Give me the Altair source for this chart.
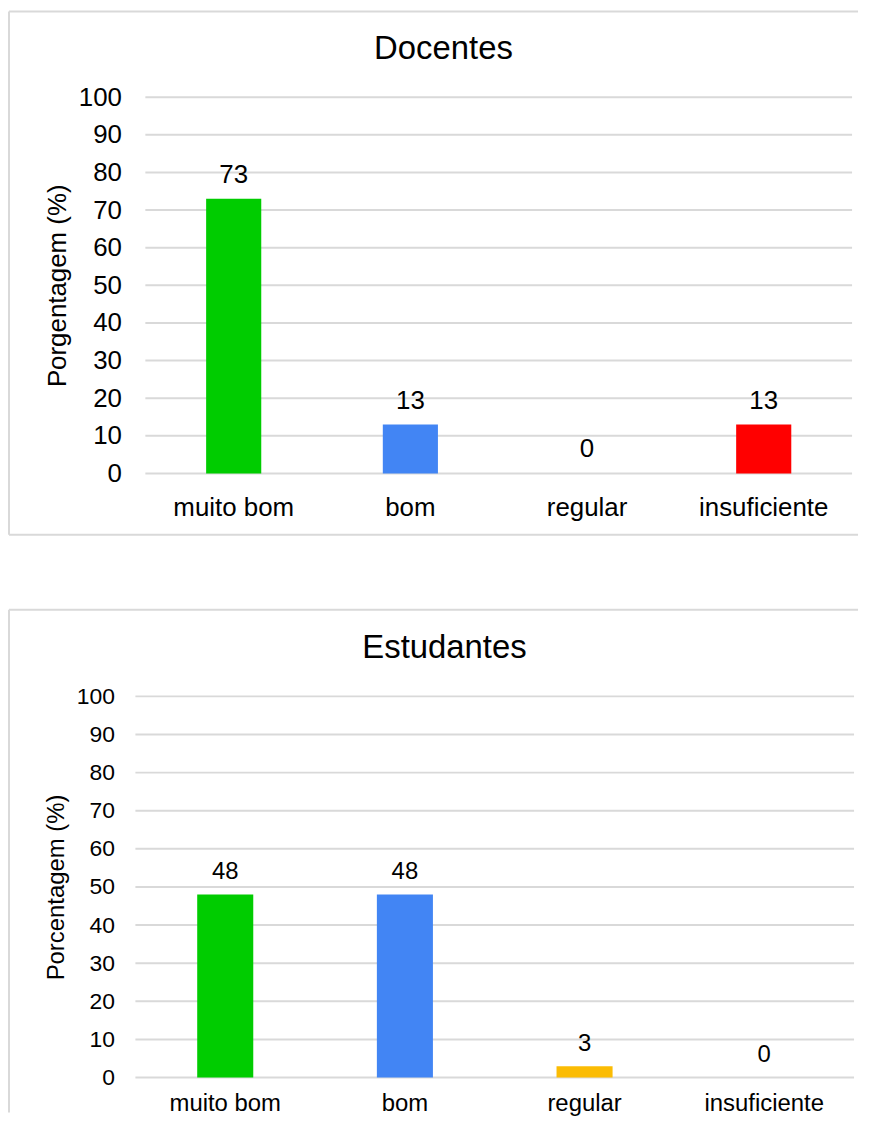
import altair as alt
import pandas as pd

categories = ["muito bom", "bom", "regular", "insuficiente"]
docentes = [73, 13, 0, 13]
estudantes = [48, 48, 3, 0]
bar_colors = ["#00CC00", "#4285F4", "#FBBC04", "#FF0000"]
y_ticks = [0, 10, 20, 30, 40, 50, 60, 70, 80, 90, 100]

FONT = "Liberation Sans"
GRID = "#d9d9d9"


def panel(title, values, ytitle, W, H, shift, tick_fs, label_fs, val_fs, ylab_pad,
          xlab_pad, val_dy, title_x, title_y, box):
    df = pd.DataFrame({"cat": categories, "val": values})
    yscale = alt.Scale(domain=[0, 100], nice=False)
    yaxis = alt.Axis(values=y_ticks, title=ytitle, ticks=False, domain=False,
                     grid=False, labelFontSize=tick_fs, labelOverlap=False,
                     labelFont=FONT, labelColor="#000000",
                     labelPadding=ylab_pad, titleFont=FONT,
                     titleFontSize=label_fs, titleFontWeight="normal",
                     titleColor="#000000", titlePadding=8)
    x = alt.X(
        "cat:N", sort=categories,
        scale=alt.Scale(paddingInner=0, paddingOuter=0, range=[shift, W]),
        axis=alt.Axis(title=None, labelAngle=0, ticks=False, domain=False,
                      grid=False, labelFontSize=label_fs, labelFont=FONT,
                      labelColor="#000000", labelPadding=xlab_pad,
                      labelOverlap=False),
    )
    y = alt.Y("val:Q", scale=yscale, axis=yaxis)
    grid = alt.Chart(pd.DataFrame({"val": y_ticks})).mark_rule(
        color=GRID, strokeWidth=2
    ).encode(y=alt.Y("val:Q", scale=yscale, axis=yaxis),
             x=alt.value(shift), x2=alt.value(W))
    bars = alt.Chart(df).mark_bar(width=alt.RelativeBandSize(0.312)).encode(
        x=x, y=y,
        color=alt.Color("cat:N", scale=alt.Scale(domain=categories, range=bar_colors),
                        legend=None),
    )
    labels = alt.Chart(df).mark_text(
        baseline="alphabetic", dy=val_dy, fontSize=val_fs, font=FONT, color="#000000"
    ).encode(x=x, y=y, text="val:Q")
    one = pd.DataFrame({"t": [title]})
    bx1, by1, bx2, by2, closed = box
    edge = dict(color=GRID, strokeWidth=2, clip=False)
    top_line = alt.Chart(one).mark_rule(**edge).encode(
        x=alt.value(bx1), x2=alt.value(bx2), y=alt.value(by1))
    left_line = alt.Chart(one).mark_rule(**edge).encode(
        x=alt.value(bx1), y=alt.value(by1), y2=alt.value(by2))
    layers = [top_line, left_line]
    if closed:
        layers.append(alt.Chart(one).mark_rule(**edge).encode(
            x=alt.value(bx1), x2=alt.value(bx2), y=alt.value(by2)))
    ttl = alt.Chart(one).mark_text(
        fontSize=33, font=FONT, color="#000000", baseline="alphabetic", align="center"
    ).encode(text="t:N", x=alt.value(title_x), y=alt.value(title_y))
    return alt.layer(*layers, grid, bars, labels, ttl).properties(width=W, height=H)


top = panel("Docentes", docentes, "Porgentagem (%)", 710, 378, 0, 26, 26, 26,
            24, 21, -16, 299.5, -38.2, (-137, -86, 716, 439.5, True))
bottom = panel("Estudantes", estudantes, "Porcentagem (%)", 712, 383, -10, 23, 24, 24,
               31, 14, -15.5, 300.5, -38.7, (-137, -87, 716, 418, False))

chart = alt.vconcat(top, bottom, spacing=73).properties(
    padding={"left": 0, "top": 0, "right": 0, "bottom": 0},
).configure_view(stroke=None)

chart.save("out.html", embed_options={"renderer": "svg", "actions": False})
